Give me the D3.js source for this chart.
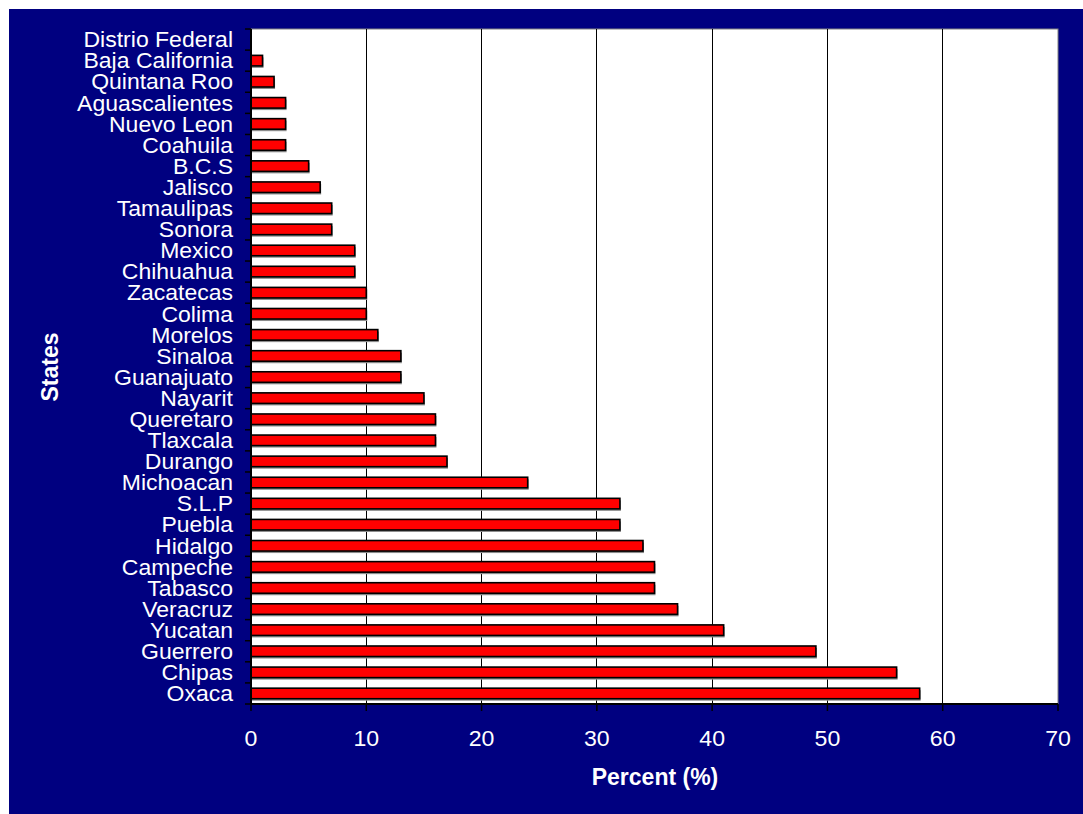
<!DOCTYPE html>
<html><head><meta charset="utf-8">
<script src="https://cdn.jsdelivr.net/npm/d3@7"></script>
<style>body{margin:0;background:#fff}svg{display:block}text{font-family:"Liberation Sans",Arial,sans-serif}</style>
</head><body><svg id="c" width="1083" height="814"></svg>
<script>
const states = ["Distrio Federal","Baja California","Quintana Roo","Aguascalientes","Nuevo Leon","Coahuila","B.C.S","Jalisco","Tamaulipas","Sonora","Mexico","Chihuahua","Zacatecas","Colima","Morelos","Sinaloa","Guanajuato","Nayarit","Queretaro","Tlaxcala","Durango","Michoacan","S.L.P","Puebla","Hidalgo","Campeche","Tabasco","Veracruz","Yucatan","Guerrero","Chipas","Oxaca"];
const percent = [0,1,2,3,3,3,5,6,7,7,9,9,10,10,11,13,13,15,16,16,17,24,32,32,34,35,35,37,41,49,56,58];
const xTicks = [0,10,20,30,40,50,60,70];
const xTitle = "Percent (%)";
const yTitle = "States";

const svg = d3.select("#c");
const L = 251, R = 1058, T = 29, B = 704;
svg.append("rect").attr("x",9).attr("y",9).attr("width",1074).attr("height",805).attr("fill","#000080");
svg.append("rect").attr("x",L).attr("y",T).attr("width",R-L).attr("height",B-T).attr("fill","#fff").attr("stroke","#808080").attr("stroke-width",1);

const x = d3.scaleLinear().domain([0,70]).range([L,R]);
const y = d3.scaleBand().domain(states).range([T,B]).paddingInner(0.5).paddingOuter(0.25);
const yb = d3.scaleBand().domain(states).range([T,B]);

// gridlines
svg.append("g").selectAll("line").data(xTicks.filter(d=>d>0 && d<70)).join("line")
  .attr("x1",d=>x(d)).attr("x2",d=>x(d)).attr("y1",T).attr("y2",B)
  .attr("stroke","#000").attr("stroke-width",1).attr("shape-rendering","crispEdges");

// bars with shadow
const data = states.map((s,i)=>({s,v:percent[i]})).filter(d=>d.v>0);
svg.append("g").selectAll("rect").data(data).join("rect")
  .attr("x",x(0)+1).attr("y",d=>y(d.s)+2).attr("width",d=>x(d.v)-x(0)).attr("height",y.bandwidth())
  .attr("fill","#8c8c8c");
svg.append("g").selectAll("rect").data(data).join("rect")
  .attr("x",x(0)).attr("y",d=>y(d.s)).attr("width",d=>x(d.v)-x(0)).attr("height",y.bandwidth())
  .attr("fill","#ff0000").attr("stroke","#000").attr("stroke-width",1.6);

// y axis
const ya = svg.append("g");
ya.append("line").attr("x1",L).attr("x2",L).attr("y1",T).attr("y2",B).attr("stroke","#000").attr("stroke-width",2);
ya.selectAll("line.t").data(states.concat(["_end"])).join("line").attr("class","t")
  .attr("x1",L-6).attr("x2",L).attr("y1",(d,i)=>T+i*yb.step()).attr("y2",(d,i)=>T+i*yb.step())
  .attr("stroke","#000").attr("stroke-width",1.5);
ya.selectAll("text").data(states).join("text")
  .attr("transform",d=>`translate(233,${yb(d)+yb.bandwidth()/2}) scale(1.07,1)`).attr("dy","0.36em")
  .attr("text-anchor","end").attr("fill","#fff").attr("font-size",21.5).text(d=>d);

// x axis
const xa = svg.append("g");
xa.append("line").attr("x1",L).attr("x2",R).attr("y1",B).attr("y2",B).attr("stroke","#000").attr("stroke-width",2);
xa.selectAll("line.t").data(xTicks).join("line").attr("class","t")
  .attr("x1",d=>x(d)).attr("x2",d=>x(d)).attr("y1",B).attr("y2",B+7).attr("stroke","#000").attr("stroke-width",1.5);
xa.selectAll("text").data(xTicks).join("text")
  .attr("transform",d=>`translate(${x(d)},738) scale(1.05,1)`).attr("dy","0.36em").attr("text-anchor","middle")
  .attr("fill","#fff").attr("font-size",22).text(d=>d);

svg.append("text").attr("x",655).attr("y",777).attr("dy","0.36em").attr("text-anchor","middle")
  .attr("fill","#fff").attr("font-size",23).attr("font-weight","bold").text(xTitle);
svg.append("text").attr("transform","translate(50,367) rotate(-90)").attr("dy","0.36em").attr("text-anchor","middle")
  .attr("fill","#fff").attr("font-size",23).attr("font-weight","bold").text(yTitle);
</script></body></html>
